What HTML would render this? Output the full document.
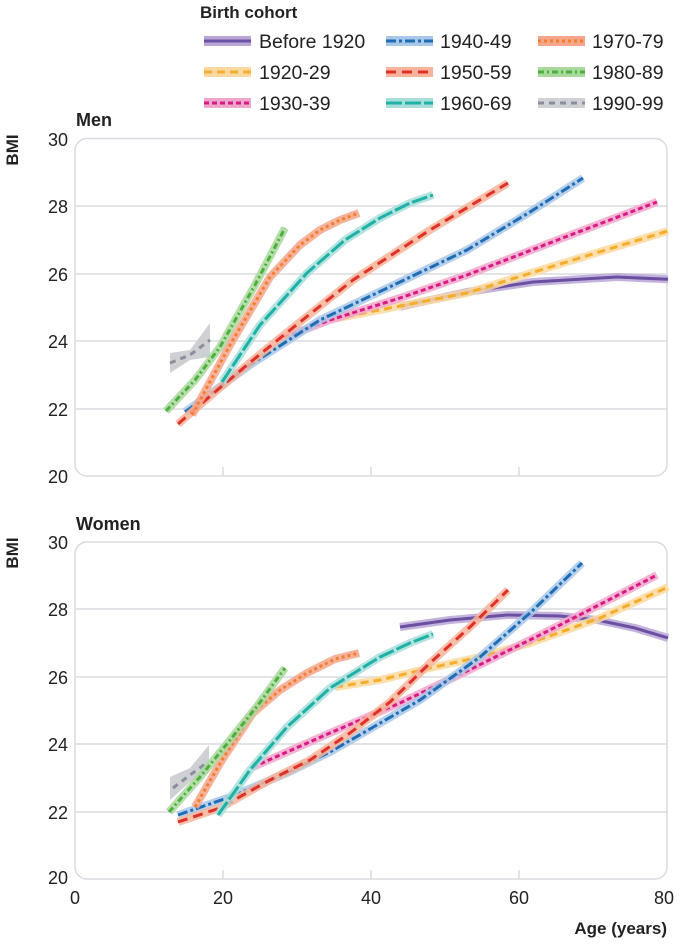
<!DOCTYPE html>
<html><head><meta charset="utf-8"><style>
html,body{margin:0;padding:0;background:#fff}
svg{display:block}
text{font-family:"Liberation Sans",sans-serif;fill:#222}
</style></head><body>
<svg width="680" height="949" viewBox="0 0 680 949" xmlns="http://www.w3.org/2000/svg">
<defs>
<style>
.band{fill:none;stroke-width:8;stroke-linecap:butt;stroke-linejoin:round;opacity:.85}
.ln{fill:none;stroke-width:3;stroke-linejoin:round}
.grid{stroke:#d9dbe1;stroke-width:1.5}
.box{fill:none;stroke:#d9dbe1;stroke-width:1.5}
.lab{font-size:18px}
</style>
</defs>

<!-- Legend -->
<text x="200" y="18" font-size="17" font-weight="bold">Birth cohort</text>
<g font-size="19.5">
 <rect x="204" y="36" width="47" height="10" fill="#b9a6d6"/><line x1="204" y1="41" x2="251" y2="41" stroke="#6b4fa0" stroke-width="3"/>
 <text x="259" y="48">Before 1920</text>
 <rect x="204" y="67" width="47" height="10" fill="#fcd9a0"/><line x1="204" y1="72" x2="251" y2="72" stroke="#f5ad2c" stroke-width="3" stroke-dasharray="8 5"/>
 <text x="259" y="79">1920-29</text>
 <rect x="204" y="98" width="47" height="10" fill="#f3a6cb"/><line x1="204" y1="103" x2="251" y2="103" stroke="#d81b84" stroke-width="3" stroke-dasharray="5 3"/>
 <text x="259" y="110">1930-39</text>
 <rect x="386" y="36" width="47" height="10" fill="#a9c7e8"/><line x1="386" y1="41" x2="433" y2="41" stroke="#1f6db5" stroke-width="3" stroke-dasharray="10 3 3 3"/>
 <text x="440" y="48">1940-49</text>
 <rect x="386" y="67" width="47" height="10" fill="#f7b49a"/><line x1="386" y1="72" x2="433" y2="72" stroke="#e0302a" stroke-width="3" stroke-dasharray="10 6"/>
 <text x="440" y="79">1950-59</text>
 <rect x="386" y="98" width="47" height="10" fill="#a8ded9"/><line x1="386" y1="103" x2="433" y2="103" stroke="#1fb0a6" stroke-width="3" stroke-dasharray="16 3"/>
 <text x="440" y="110">1960-69</text>
 <rect x="538" y="36" width="47" height="10" fill="#f4a58a"/><line x1="538" y1="41" x2="585" y2="41" stroke="#f07f30" stroke-width="3" stroke-dasharray="3 3"/>
 <text x="592" y="48">1970-79</text>
 <rect x="538" y="67" width="47" height="10" fill="#a9d89c"/><line x1="538" y1="72" x2="585" y2="72" stroke="#4caf3e" stroke-width="3" stroke-dasharray="6 3 2 3"/>
 <text x="592" y="79">1980-89</text>
 <rect x="538" y="98" width="47" height="10" fill="#cfd1d6"/><line x1="538" y1="103" x2="585" y2="103" stroke="#8a8f99" stroke-width="3" stroke-dasharray="6 5"/>
 <text x="592" y="110">1990-99</text>
</g>

<!-- MEN PANEL -->
<text x="76" y="126" font-size="18" font-weight="bold">Men</text>
<text transform="translate(18,150) rotate(-90)" text-anchor="middle" font-size="17" font-weight="bold">BMI</text>
<g class="lab" text-anchor="end">
 <text x="68" y="146">30</text><text x="68" y="213">28</text><text x="68" y="281">26</text>
 <text x="68" y="348">24</text><text x="68" y="416">22</text><text x="68" y="483">20</text>
</g>
<line class="grid" x1="75" y1="206" x2="667" y2="206"/>
<line class="grid" x1="75" y1="274" x2="667" y2="274"/>
<line class="grid" x1="75" y1="341" x2="667" y2="341"/>
<line class="grid" x1="75" y1="409" x2="667" y2="409"/>
<rect class="box" x="75" y="138.5" width="592" height="337.5" rx="12"/>
<line class="grid" x1="223" y1="476" x2="223" y2="467"/><line class="grid" x1="371" y1="476" x2="371" y2="467"/><line class="grid" x1="519" y1="476" x2="519" y2="467"/>

<!-- men series -->
<path d="M170,353 L190,350 L210,323 L210,357 L190,360 L170,373 Z" fill="#c6c8cc" opacity=".85"/>
<polyline class="ln" points="170,363 190,355 210,340" stroke="#8a8f99" stroke-dasharray="6 5"/>

<polyline class="band" points="400,306.7 467,292 533,282 617,277 668,279.3" stroke="#b9a6d6"/>
<polyline class="ln" points="400,306.7 467,292 533,282 617,277 668,279.3" stroke="#6b4fa0"/>

<polyline class="band" points="333,319 400,306 467,293 560,264 668,231" stroke="#fcd9a0"/>
<polyline class="ln" points="333,319 400,306 467,293 560,264 668,231" stroke="#f5ad2c" stroke-dasharray="8 5"/>

<polyline class="band" points="277,340 330,320 400,298 467,275 560,239 657,202" stroke="#f3a6cb"/>
<polyline class="ln" points="277,340 330,320 400,298 467,275 560,239 657,202" stroke="#d81b84" stroke-dasharray="5 3"/>

<polyline class="band" points="185,412 250,365 320,320 400,282 467,250 530,212 583,178" stroke="#a9c7e8"/>
<polyline class="ln" points="185,412 250,365 320,320 400,282 467,250 530,212 583,178" stroke="#1f6db5" stroke-dasharray="10 3 3 3"/>

<polyline class="band" points="178,424 215,392 253,360 300,322 353,280 430,230 508,183" stroke="#f7b49a"/>
<polyline class="ln" points="178,424 215,392 253,360 300,322 353,280 430,230 508,183" stroke="#e0302a" stroke-dasharray="10 6"/>

<polyline class="band" points="222,382 260,325 307,273 345,240 380,218 410,203 433,195" stroke="#a8ded9"/>
<polyline class="ln" points="222,382 260,325 307,273 345,240 380,218 410,203 433,195" stroke="#1fb0a6" stroke-dasharray="16 3"/>

<polyline class="band" points="192,415 230,345 270,277 300,245 320,230 340,220 359,213" stroke="#f4a58a" stroke-width="10"/>
<polyline class="ln" points="192,415 230,345 270,277 300,245 320,230 340,220 359,213" stroke="#f07f30" stroke-dasharray="3 3"/>

<polyline class="band" points="166,411 195,380 220,347 255,285 285,228" stroke="#a9d89c"/>
<polyline class="ln" points="166,411 195,380 220,347 255,285 285,228" stroke="#4caf3e" stroke-dasharray="6 3 2 3"/>

<!-- WOMEN PANEL -->
<text x="76" y="530" font-size="18" font-weight="bold">Women</text>
<text transform="translate(18,553) rotate(-90)" text-anchor="middle" font-size="17" font-weight="bold">BMI</text>
<g class="lab" text-anchor="end">
 <text x="68" y="549">30</text><text x="68" y="616">28</text><text x="68" y="684">26</text>
 <text x="68" y="751">24</text><text x="68" y="819">22</text><text x="68" y="884">20</text>
</g>
<line class="grid" x1="75" y1="609" x2="667" y2="609"/>
<line class="grid" x1="75" y1="677" x2="667" y2="677"/>
<line class="grid" x1="75" y1="744" x2="667" y2="744"/>
<line class="grid" x1="75" y1="812" x2="667" y2="812"/>
<rect class="box" x="75" y="542" width="592" height="337" rx="12"/>
<line class="grid" x1="223" y1="879" x2="223" y2="870"/><line class="grid" x1="371" y1="879" x2="371" y2="870"/><line class="grid" x1="519" y1="879" x2="519" y2="870"/>

<g class="lab" text-anchor="middle">
 <text x="75" y="904">0</text><text x="223" y="904">20</text><text x="371" y="904">40</text>
 <text x="519" y="904">60</text><text x="664" y="904">80</text>
</g>
<text x="667" y="934" text-anchor="end" font-size="17" font-weight="bold">Age (years)</text>

<!-- women series -->
<path d="M170,777 L190,768 L209,745 L209,772 L190,782 L170,800 Z" fill="#c6c8cc" opacity=".85"/>
<polyline class="ln" points="173,788 190,775 208,762" stroke="#8a8f99" stroke-dasharray="6 5"/>

<polyline class="band" points="400,627 450,620 507,615 560,616 597,620 635,628 668,638" stroke="#b9a6d6"/>
<polyline class="ln" points="400,627 450,620 507,615 560,616 597,620 635,628 668,638" stroke="#6b4fa0"/>

<polyline class="band" points="335,687 380,680 430,668 480,657 530,643 600,618 668,587" stroke="#fcd9a0" stroke-width="10"/>
<polyline class="ln" points="335,687 380,680 430,668 480,657 530,643 600,618 668,587" stroke="#f5ad2c" stroke-dasharray="8 5"/>

<polyline class="band" points="253,767 330,733 400,703 463,673 560,625 657,575" stroke="#f3a6cb"/>
<polyline class="ln" points="253,767 330,733 400,703 463,673 560,625 657,575" stroke="#d81b84" stroke-dasharray="5 3"/>

<polyline class="band" points="178,815 230,797 287,773 330,752 363,733 420,700 480,657 530,613 582,563" stroke="#a9c7e8" stroke-width="9"/>
<polyline class="ln" points="178,815 230,797 287,773 330,752 363,733 420,700 480,657 530,613 582,563" stroke="#1f6db5" stroke-dasharray="10 3 3 3"/>

<polyline class="band" points="178,822 220,808 270,780 310,760 350,733 390,702 430,663 470,627 508,590" stroke="#f7b49a"/>
<polyline class="ln" points="178,822 220,808 270,780 310,760 350,733 390,702 430,663 470,627 508,590" stroke="#e0302a" stroke-dasharray="10 6"/>

<polyline class="band" points="218,815 250,770 287,727 330,688 380,657 410,643 433,634" stroke="#a8ded9"/>
<polyline class="ln" points="218,815 250,770 287,727 330,688 380,657 410,643 433,634" stroke="#1fb0a6" stroke-dasharray="16 3"/>

<polyline class="band" points="195,807 222,760 253,713 280,690 307,673 335,659 359,653" stroke="#f4a58a" stroke-width="10"/>
<polyline class="ln" points="195,807 222,760 253,713 280,690 307,673 335,659 359,653" stroke="#f07f30" stroke-dasharray="3 3"/>

<polyline class="band" points="169,812 200,777 230,740 258,705 285,668" stroke="#a9d89c" stroke-width="9"/>
<polyline class="ln" points="169,812 200,777 230,740 258,705 285,668" stroke="#4caf3e" stroke-dasharray="6 3 2 3"/>
</svg>
</body></html>
